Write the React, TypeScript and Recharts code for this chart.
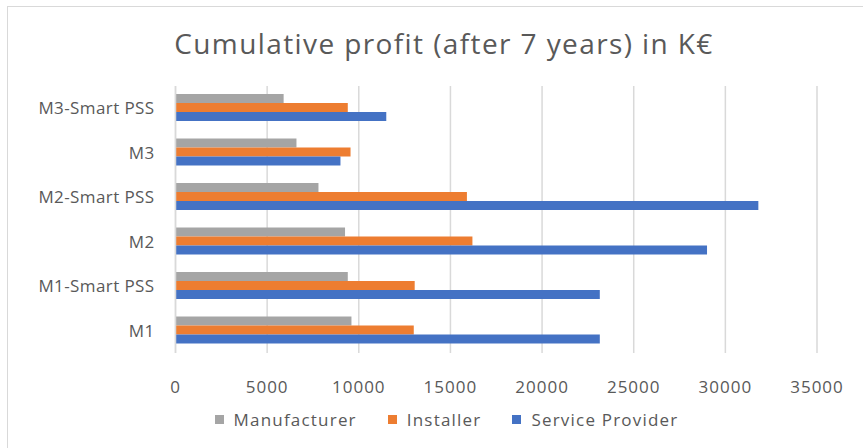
import { Bar, BarChart, CartesianGrid, XAxis, YAxis } from "recharts";

const CATEGORIES = ["M3-Smart PSS", "M3", "M2-Smart PSS", "M2", "M1-Smart PSS", "M1"];
const MANUFACTURER = [5900, 6600, 7800, 9250, 9400, 9600];
const INSTALLER = [9400, 9550, 15900, 16200, 13050, 13000];
const SERVICE_PROVIDER = [11500, 9000, 31800, 29000, 23150, 23150];
const X_TICKS = [0, 5000, 10000, 15000, 20000, 25000, 30000, 35000];

const SERIES = [
  { key: "manufacturer", name: "Manufacturer", color: "#A5A5A5" },
  { key: "installer", name: "Installer", color: "#ED7D31" },
  { key: "service", name: "Service Provider", color: "#4472C4" },
];

const data = CATEGORIES.map((name, i) => ({
  name,
  manufacturer: MANUFACTURER[i],
  installer: INSTALLER[i],
  service: SERVICE_PROVIDER[i],
}));

const FONT = "'Open Sans', sans-serif";
const TEXT = "#595959";
const GRID = "#D9D9D9";
const X_TICK = { fontSize: 17, fill: TEXT, fontFamily: FONT, letterSpacing: 1 } as const;
const Y_TICK = { fontSize: 17, fill: TEXT, fontFamily: FONT, letterSpacing: 0.4 } as const;

function LegendRow() {
  return (
    <div
      style={{
        position: "absolute",
        top: 408,
        left: 0,
        width: 863,
        display: "flex",
        justifyContent: "center",
        gap: 31,
        fontFamily: FONT,
        fontSize: 17,
        letterSpacing: 1.2,
        color: TEXT,
        paddingLeft: 30,
        boxSizing: "border-box",
      }}
    >
      {SERIES.map((s) => (
        <div key={s.key} style={{ display: "flex", alignItems: "center" }}>
          <span style={{ width: 9, height: 9, background: s.color, marginRight: 10, display: "inline-block" }} />
          <span>{s.name}</span>
        </div>
      ))}
    </div>
  );
}

export default function App() {
  return (
    <div style={{ position: "absolute", left: 0, top: 0, width: 863, height: 448, background: "#fff", overflow: "hidden" }}>
      <div
        style={{
          position: "absolute",
          left: 7,
          top: 6,
          width: 900,
          height: 500,
          borderTop: `1.5px solid ${GRID}`,
          borderLeft: `1.5px solid ${GRID}`,
        }}
      />
      <div
        style={{
          position: "absolute",
          top: 24,
          left: 0,
          width: 888,
          textAlign: "center",
          fontFamily: FONT,
          fontSize: 28,
          letterSpacing: 1.4,
          color: TEXT,
        }}
      >
        Cumulative profit (after 7 years) in K€
      </div>
      <BarChart
        width={863}
        height={448}
        data={data}
        layout="vertical"
        margin={{ top: 86, right: 46, left: 0, bottom: 65 }}
        barCategoryGap="18%"
        barGap={0}
      >
        <CartesianGrid horizontal={false} stroke={GRID} strokeWidth={1.5} />
        <XAxis
          type="number"
          domain={[0, 35000]}
          ticks={X_TICKS}
          height={30}
          axisLine={false}
          tickLine={false}
          tickMargin={22}
          tick={X_TICK}
        />
        <YAxis
          type="category"
          dataKey="name"
          width={175.5}
          axisLine={{ stroke: GRID, strokeWidth: 1.5 }}
          tickLine={false}
          tickMargin={15}
          tick={Y_TICK}
          interval={0}
        />
        {SERIES.map((s) => (
          <Bar key={s.key} dataKey={s.key} name={s.name} fill={s.color} isAnimationActive={false} />
        ))}
      </BarChart>
      <LegendRow />
    </div>
  );
}
